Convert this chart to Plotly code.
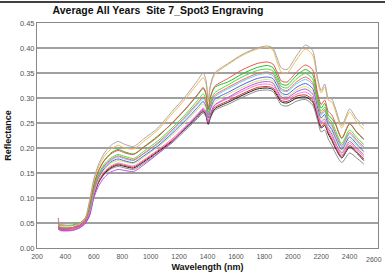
import plotly.graph_objects as go

wavelength = [350, 360, 400, 450, 500, 540, 570, 600, 630, 670, 720, 770, 820, 880, 950,
              1050, 1150, 1250, 1330, 1370, 1390, 1405, 1420, 1450, 1550, 1650, 1750, 1820,
              1860, 1890, 1920, 1960, 2030, 2090, 2140, 2175, 2200, 2225, 2250, 2275, 2300,
              2345, 2400, 2450, 2500]

gray_top = [.058, .048, .046, .045, .049, .060, .095, .138, .165, .188, .205, .213, .207, .203, .218,
            .240, .273, .305, .335, .350, .335, .296, .325, .350, .370, .388, .400, .404,
            .400, .380, .360, .357, .386, .406, .395, .340, .315, .328, .300, .298, .280,
            .245, .278, .258, .245]
orange = [.045, .044, .045, .045, .049, .059, .093, .135, .160, .182, .198, .205, .200, .198, .213,
          .236, .268, .300, .328, .341, .328, .292, .322, .347, .368, .386, .398, .401,
          .396, .372, .352, .350, .378, .398, .386, .334, .310, .322, .296, .292, .274,
          .240, .272, .252, .238]
red1 = [.060, .042, .040, .041, .046, .056, .085, .125, .152, .173, .188, .195, .190, .187, .201,
        .222, .250, .280, .307, .321, .308, .278, .301, .323, .340, .357, .369, .372,
        .368, .352, .334, .332, .353, .366, .356, .310, .287, .296, .273, .266, .250,
        .220, .249, .232, .218]
green1 = [.048, .046, .045, .046, .050, .060, .086, .127, .153, .174, .190, .197, .192, .188, .202,
          .224, .249, .279, .306, .319, .307, .277, .300, .321, .333, .349, .361, .365,
          .361, .345, .328, .326, .346, .357, .347, .303, .280, .289, .266, .259, .248,
          .219, .248, .231, .217]
green2 = [.046, .045, .044, .045, .049, .058, .080, .120, .146, .166, .180, .187, .183, .179, .193,
          .214, .240, .269, .295, .308, .297, .270, .290, .310, .327, .343, .355, .358,
          .354, .339, .323, .320, .339, .349, .338, .297, .274, .282, .260, .252, .236,
          .209, .236, .221, .207]
red2 = [.044, .040, .039, .040, .045, .055, .078, .118, .143, .163, .177, .184, .180, .176, .189,
        .210, .236, .265, .290, .302, .292, .266, .286, .305, .322, .337, .349, .352,
        .349, .334, .318, .315, .333, .342, .331, .292, .269, .277, .255, .247, .230,
        .205, .231, .216, .202]
cyan = [.042, .041, .040, .041, .046, .055, .077, .116, .142, .162, .175, .182, .178, .175, .188,
        .208, .233, .262, .287, .299, .289, .264, .283, .302, .319, .334, .346, .349,
        .345, .331, .315, .313, .329, .337, .327, .289, .266, .273, .252, .243, .227,
        .202, .228, .213, .199]
blue = [.040, .039, .038, .040, .044, .054, .075, .114, .139, .158, .172, .178, .174, .171, .184,
        .204, .229, .257, .281, .293, .283, .260, .278, .297, .312, .327, .339, .342,
        .339, .325, .310, .307, .322, .329, .319, .282, .260, .267, .247, .237, .221,
        .197, .222, .208, .193]
yellowgreen = [.043, .042, .041, .042, .046, .055, .073, .112, .137, .156, .169, .175, .172, .169, .181,
               .202, .225, .253, .277, .288, .279, .258, .275, .292, .308, .322, .334, .337,
               .334, .320, .306, .303, .317, .323, .313, .278, .255, .262, .242, .232, .216,
               .193, .217, .204, .189]
violet = [.038, .035, .034, .035, .040, .049, .064, .100, .122, .140, .152, .157, .155, .153, .166,
          .188, .212, .242, .266, .278, .270, .252, .268, .286, .302, .318, .330, .333,
          .330, .316, .302, .300, .313, .318, .308, .274, .252, .258, .239, .228, .212,
          .190, .213, .200, .186]
pink = [.040, .037, .036, .037, .042, .051, .071, .108, .133, .152, .164, .170, .167, .164, .176,
        .196, .218, .245, .268, .280, .272, .253, .268, .285, .300, .314, .326, .328,
        .325, .312, .299, .297, .308, .312, .302, .270, .248, .253, .235, .223, .208,
        .186, .209, .197, .182]
red3 = [.041, .036, .035, .036, .041, .050, .069, .106, .131, .150, .162, .168, .165, .162, .174,
        .194, .215, .243, .265, .276, .268, .250, .265, .281, .295, .309, .321, .323,
        .320, .308, .295, .293, .304, .306, .296, .265, .243, .248, .231, .218, .203,
        .183, .205, .193, .178]
black = [.042, .038, .036, .037, .041, .050, .068, .105, .130, .148, .160, .166, .163, .160, .172,
         .192, .213, .240, .262, .273, .265, .248, .262, .278, .292, .306, .318, .320,
         .317, .305, .292, .290, .300, .302, .292, .262, .240, .245, .228, .215, .200,
         .180, .202, .190, .175]
gray_bottom = [.045, .040, .039, .040, .043, .051, .067, .103, .128, .146, .158, .163, .160, .157, .169,
               .189, .210, .237, .259, .270, .262, .246, .259, .275, .288, .302, .314, .316,
               .313, .300, .286, .284, .294, .297, .286, .255, .232, .236, .218, .205, .190,
               .171, .190, .180, .168]

series = [
    ("gray_bottom", gray_bottom, "#8c8c8c"),
    ("black", black, "#1a1a1a"),
    ("red3", red3, "#e03030"),
    ("pink", pink, "#f080c8"),
    ("violet", violet, "#c050f0"),
    ("yellowgreen", yellowgreen, "#c8f060"),
    ("blue", blue, "#5a5af0"),
    ("cyan", cyan, "#60d0f0"),
    ("red2", red2, "#ff6060"),
    ("green2", green2, "#40e040"),
    ("green1", green1, "#20c020"),
    ("red1", red1, "#f05050"),
    ("orange", orange, "#f5b850"),
    ("gray_top", gray_top, "#a8a8a8"),
]

x_ticks = [200, 400, 600, 800, 1000, 1200, 1400, 1600, 1800, 2000, 2200, 2400, 2600]
y_ticks = [0.00, 0.05, 0.10, 0.15, 0.20, 0.25, 0.30, 0.35, 0.40, 0.45]

fig = go.Figure()
for name, vals, col in series:
    fig.add_trace(go.Scatter(x=wavelength, y=vals, mode="lines", name=name,
                             line=dict(color=col, width=1, shape="spline", smoothing=0.7),
                             showlegend=False, hoverinfo="skip"))

# last tick label is right-aligned to stay inside the page
x_ticktext = [str(v) for v in x_ticks[:-1]] + [""]

fig.update_layout(
    width=385, height=280,
    margin=dict(l=37, r=7, t=23, b=32),
    paper_bgcolor="white", plot_bgcolor="white",
    font=dict(family="Liberation Sans, Arial, sans-serif", color="#555555", size=8),
    title=dict(text="<b>Average All Years\u00a0 Site 7_Spot3 Engraving</b>",
               x=158 / 385, xanchor="center", y=1 - 10 / 280, yanchor="middle",
               font=dict(size=10.5, color="#111111", family="Liberation Sans, Arial, sans-serif")),
    xaxis=dict(range=[200, 2600], tickvals=x_ticks, ticktext=x_ticktext,
               showgrid=False, zeroline=False, showline=True, linecolor="#888888",
               linewidth=1, mirror=True, ticks="", ticklen=0, ticklabelstandoff=2,
               tickfont=dict(size=7, color="#555555"),
               title=dict(text="<b>Wavelength (nm)</b>", standoff=4,
                          font=dict(size=9, color="#111111"))),
    yaxis=dict(range=[0, 0.45], tickvals=y_ticks, ticktext=[f"{v:.2f}" for v in y_ticks],
               showgrid=True, gridcolor="#a0a0a0", gridwidth=1.5, zeroline=False,
               showline=True, linecolor="#888888", linewidth=1, mirror=True, ticks="",
               tickfont=dict(size=7.5, color="#555555"),
               title=dict(text="<b>Reflectance</b>", standoff=6,
                          font=dict(size=9, color="#111111"))),
)

fig.add_annotation(text=str(x_ticks[-1]), xref="paper", yref="paper",
                   x=1 + 6 / 341, y=0, xanchor="right", yanchor="top", yshift=-6,
                   showarrow=False, font=dict(size=7, color="#555555"))

fig.add_shape(type="line", xref="paper", yref="paper",
              x0=-37 / 341, x1=1 + 7 / 341, y0=1 + 21 / 225, y1=1 + 21 / 225,
              line=dict(color="black", width=1.5))

fig.write_html("out.html", config={"displayModeBar": False},
               post_script="document.body.style.margin='0';document.body.style.overflow='hidden';")
